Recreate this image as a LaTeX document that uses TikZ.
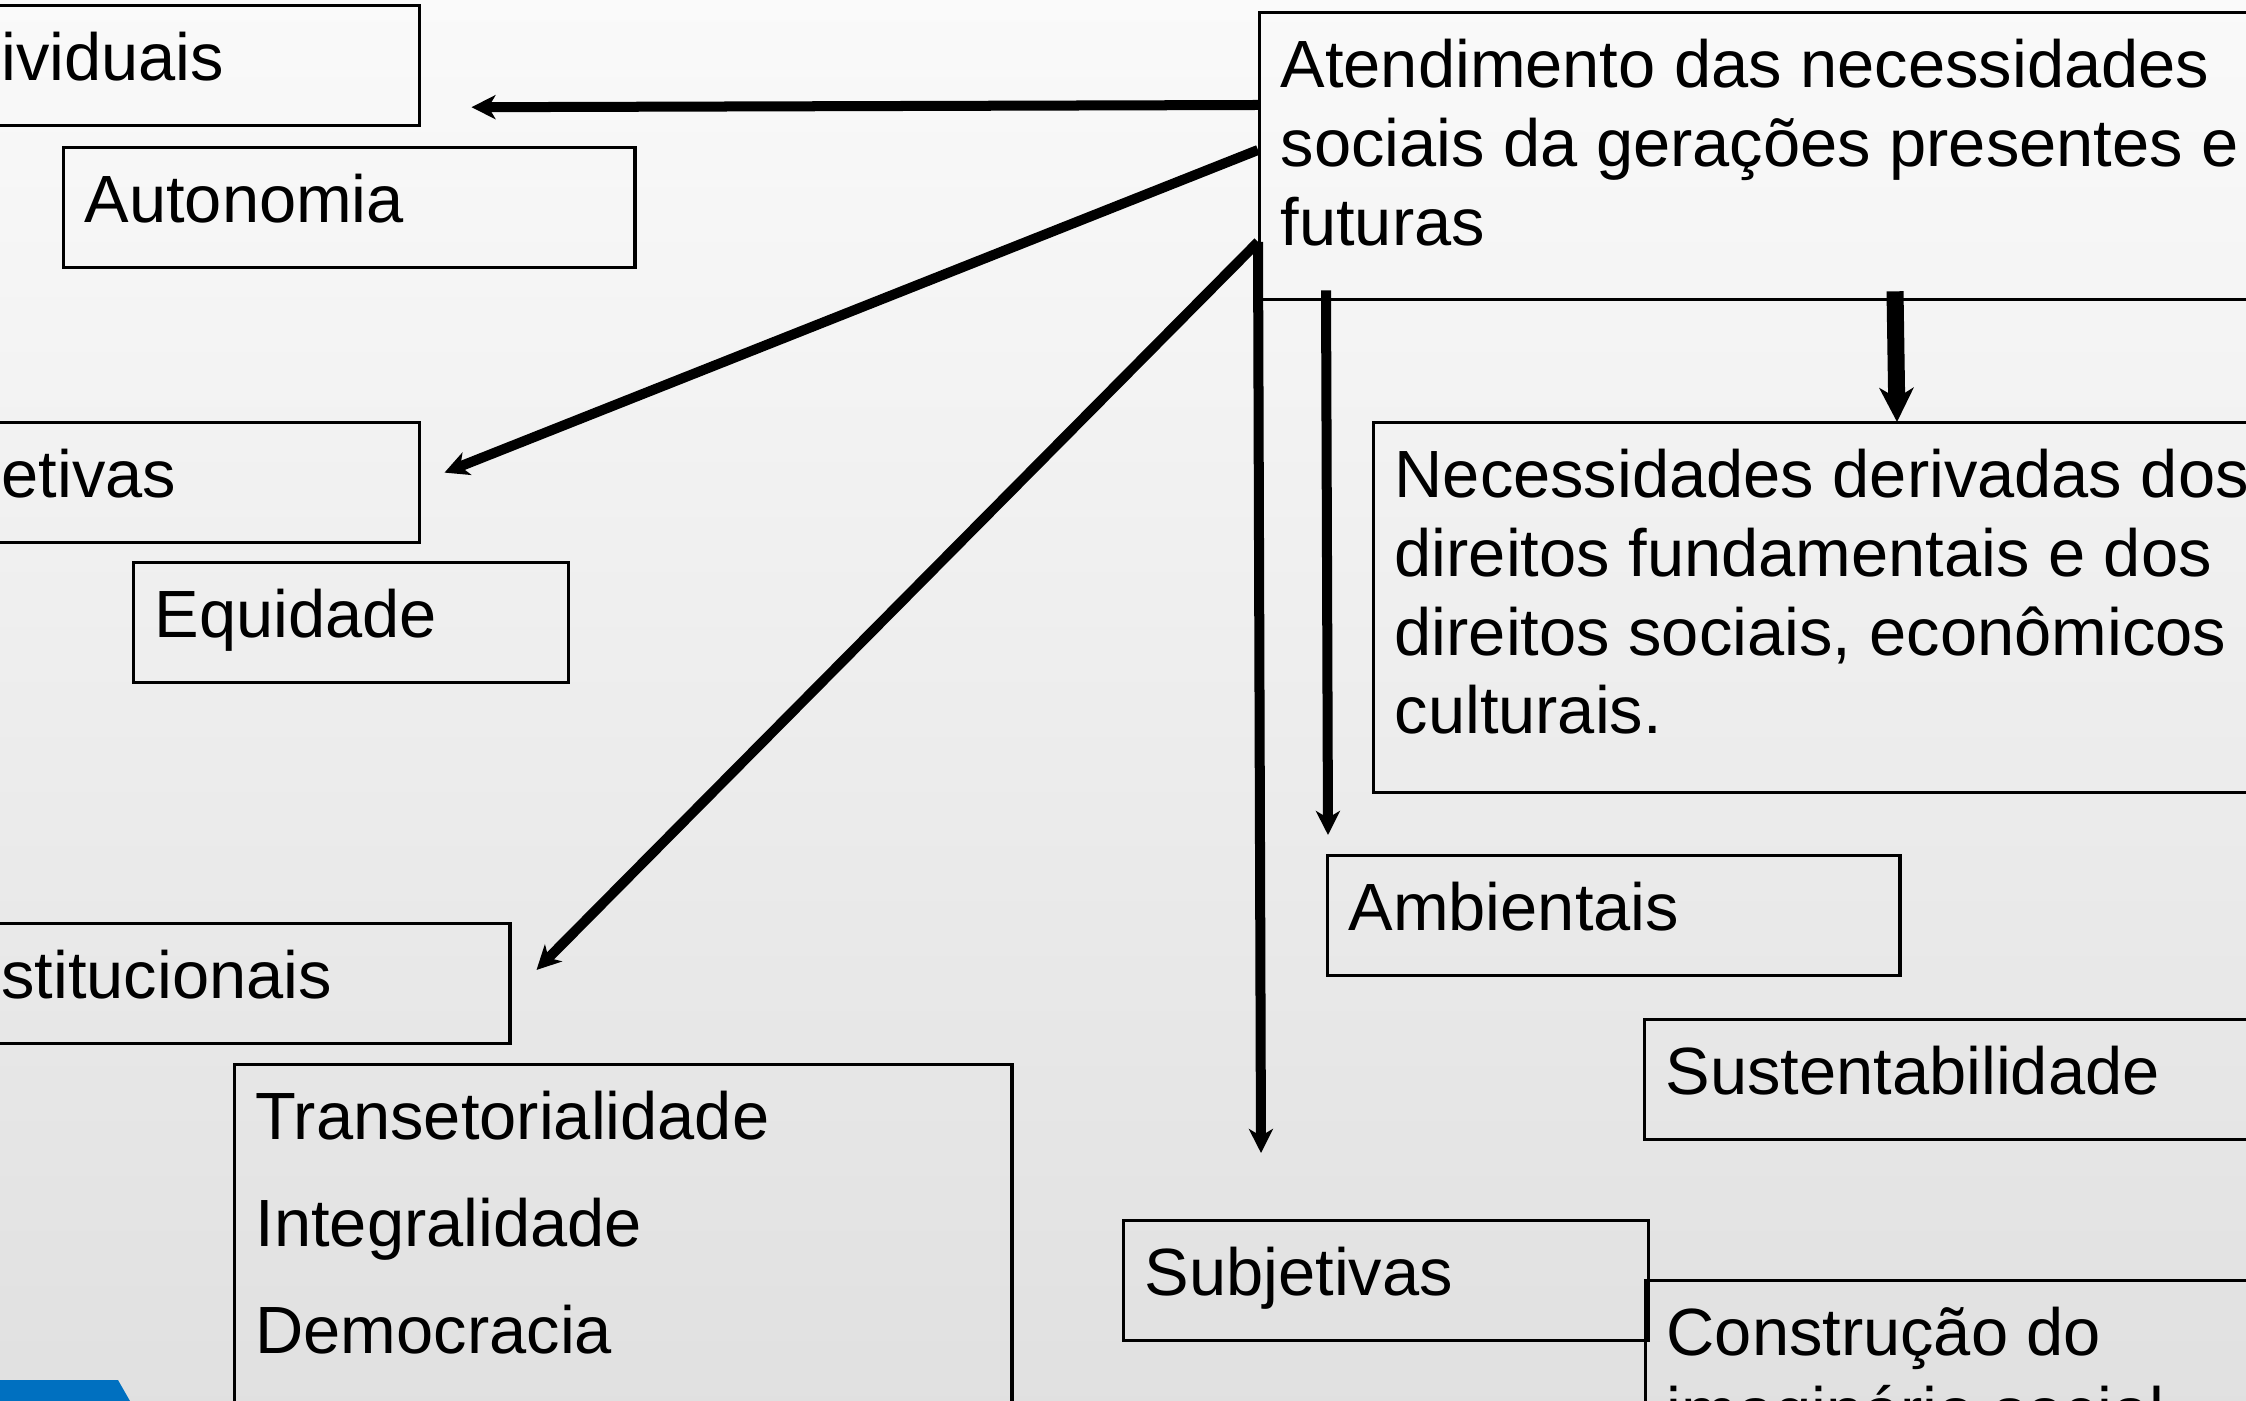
\documentclass[tikz,border=0pt]{standalone}
\usepackage{fontspec}
\setmainfont{Liberation Sans}
\usetikzlibrary{arrows.meta,calc}
\definecolor{azul}{HTML}{0070C0}

\begin{document}
\begin{tikzpicture}[x=0.01cm,y=-0.01cm,
		box/.style={draw=black,line width=0.9pt,anchor=north west,align=flush left,inner xsep=0.21cm,inner ysep=0pt,
			text height=0.75cm,text depth=0.45cm,font=\fontsize{19pt}{22.4pt}\selectfont},
		link/.style={line width=0.1cm,-{Stealth[length=0.24cm,width=0.24cm,inset=0.07cm]}},
		biglink/.style={line width=0.17cm,-{Stealth[length=0.34cm,width=0.34cm,inset=0.1cm]}},
		]
		\useasboundingbox (0,0) rectangle (2246,1401);
		\clip (0,0) rectangle (2246,1401);
		\shade[top color=black!2,bottom color=black!12] (0,0) rectangle (2246,1401);
		\fill[azul] (0,1380) -- (118,1380) -- (130,1401) -- (0,1401) -- cycle;

		% left column
		\node[box,text width=4.90cm] (ind) at (-114,4) {Individuais};
		\node[box,text width=5.29cm] (aut) at (62,146) {Autonomia};
		\node[box,text width=4.97cm] (col) at (-121,421) {Coletivas};
		\node[box,text width=3.93cm] (equ) at (132,561) {Equidade};
		\node[box,text width=5.43cm] (ins) at (-77,922) {Institucionais};
		\node[box,text width=7.35cm,text depth=4cm] (tra) at (233,1063)
			{Transetorialidade\\[8pt] Integralidade\\[8pt] Democracia};

		% right column
		\node[box,text width=10cm,text depth=2.12cm] (main) at (1258,11)
			{Atendimento das necessidades\\ sociais da gerações presentes e\\ futuras};
		\node[box,text width=10cm,text depth=2.95cm] (nec) at (1372,421)
			{Necessidades derivadas dos\\ direitos fundamentais e dos\\ direitos sociais, econômicos\\ culturais.};
		\node[box,text width=5.30cm] (amb) at (1326,854) {Ambientais};
		\node[box,text width=7cm] (sus) at (1643,1018) {Sustentabilidade};
		\node[box,text width=4.83cm] (sub) at (1122,1219) {Subjetivas};
		\node[box,text width=7cm,text depth=2cm] (con) at (1644,1279) {Construção do\\ imaginário social};

		\coordinate (o1) at ($(main.north west)+(0,94)$);
		\coordinate (o2) at ($(main.north west)+(0,139)$);
		\coordinate (o3) at ($(main.north west)+(0,231)$);
		\coordinate (o4) at ($(main.south west)+(68,-11)$);
		\coordinate (o5) at ($(main.south west)+(637,-10)$);

		\draw[link] (o1) -- ($(ind.south east)+(50,-20)$);
		\draw[link] (o2) -- ($(col.east)+(23,-10)$);
		\draw[link] (o3) -- ($(ins.north east)+(25,48)$);
		\draw[link] (o3) -- ($(sub.north west)+(139,-66)$);
		\draw[link] (o4) -- ($(amb.north west)+(2,-19)$);
		\draw[biglink] (o5) -- ($(nec.north west)+(525,1)$);
\end{tikzpicture}
\end{document}
